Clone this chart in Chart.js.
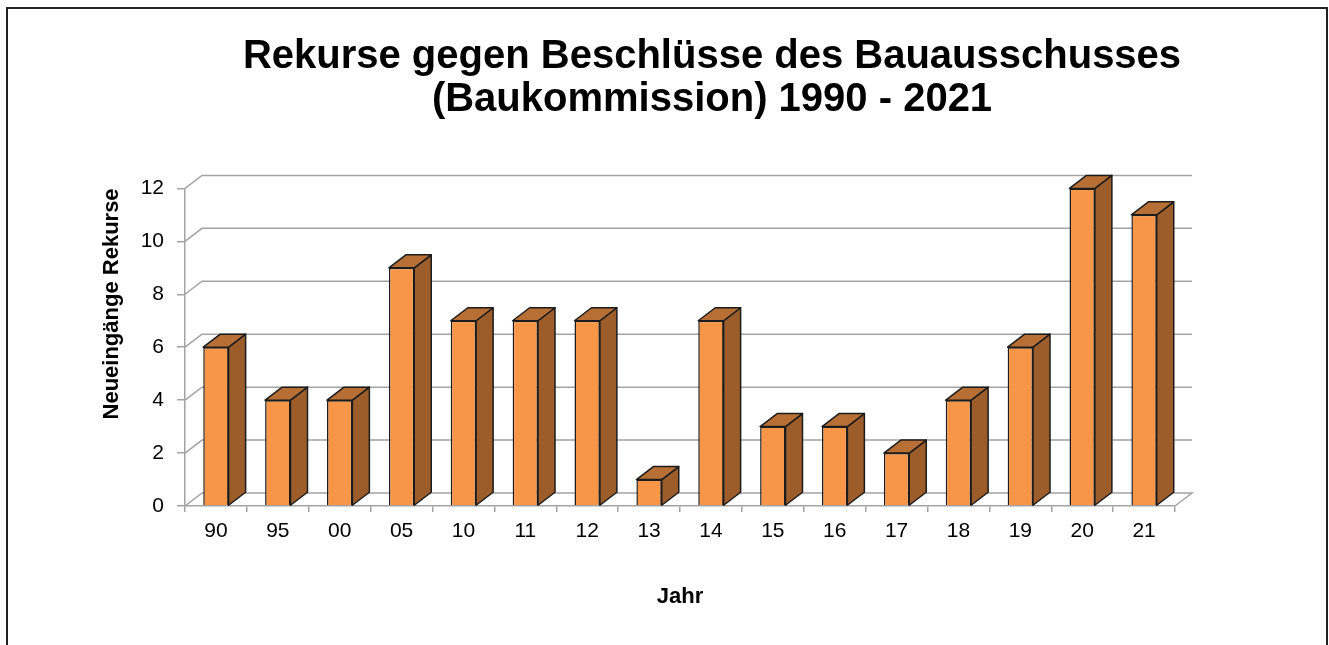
<!DOCTYPE html>
<html>
<head>
<meta charset="utf-8">
<script src="https://cdn.jsdelivr.net/npm/chart.js@4.4.1/dist/chart.umd.min.js"></script>
<style>
  html, body { margin: 0; padding: 0; background: #fff; }
  #wrap { width: 1329px; height: 645px; }
</style>
</head>
<body>
<div id="wrap"><canvas id="rekurse"></canvas></div>
<script>
const years = ['90', '95', '00', '05', '10', '11', '12', '13', '14', '15', '16', '17', '18', '19', '20', '21'];
const rekurse = [6, 4, 4, 9, 7, 7, 7, 1, 7, 3, 3, 2, 4, 6, 12, 11];
const yTicks = [0, 2, 4, 6, 8, 10, 12];

const titleLines = ['Rekurse gegen Beschlüsse des Bauausschusses', '(Baukommission) 1990 - 2021'];

// depth of the fake 3d look
const DX = 17, DY = -13;
const gridColor = '#a3a3a3';

const frame = {
  id: 'frame',
  beforeDraw(chart) {
    const ctx = chart.ctx;
    ctx.save();
    ctx.strokeStyle = '#222';
    ctx.lineWidth = 2;
    ctx.strokeRect(7, 8, 1320, 700);
    ctx.restore();
  }
};

// back wall gridlines + floor
const backWall = {
  id: 'backWall',
  beforeDatasetsDraw(chart) {
    const {ctx, chartArea: a, scales: {y}} = chart;
    ctx.save();
    ctx.strokeStyle = gridColor;
    ctx.lineWidth = 1.5;
    yTicks.forEach(v => {
      const py = y.getPixelForValue(v);
      ctx.beginPath();
      ctx.moveTo(a.left, py);
      ctx.lineTo(a.left + DX, py + DY);
      ctx.lineTo(a.right + DX, py + DY);
      if (v === 0) ctx.lineTo(a.right, py);
      ctx.stroke();
    });
    ctx.restore();
  }
};

// side and top faces of each bar
const bar3d = {
  id: 'bar3d',
  afterDatasetsDraw(chart) {
    const ctx = chart.ctx;
    const meta = chart.getDatasetMeta(0);
    ctx.save();
    ctx.strokeStyle = '#1c1c1c';
    ctx.lineWidth = 1.5;
    ctx.lineJoin = 'round';
    meta.data.forEach(bar => {
      const {x, y, base, width} = bar.getProps(['x', 'y', 'base', 'width'], true);
      const l = x - width / 2, r = x + width / 2;
      // side
      ctx.beginPath();
      ctx.moveTo(r, y);
      ctx.lineTo(r + DX, y + DY);
      ctx.lineTo(r + DX, base + DY);
      ctx.lineTo(r, base);
      ctx.closePath();
      ctx.fillStyle = '#9c5d2b';
      ctx.fill();
      ctx.stroke();
      // top
      ctx.beginPath();
      ctx.moveTo(l, y);
      ctx.lineTo(l + DX, y + DY);
      ctx.lineTo(r + DX, y + DY);
      ctx.lineTo(r, y);
      ctx.closePath();
      ctx.fillStyle = '#b86f35';
      ctx.fill();
      ctx.stroke();
    });
    ctx.restore();
  }
};

const font = 'Liberation Sans, Arial, sans-serif';

new Chart(document.getElementById('rekurse'), {
  type: 'bar',
  plugins: [frame, backWall, bar3d],
  data: {
    labels: years,
    datasets: [{
      label: 'Neueingänge Rekurse',
      data: rekurse,
      backgroundColor: '#f79646',
      borderColor: '#1c1c1c',
      borderWidth: 1.5,
      barPercentage: 0.41,
      categoryPercentage: 1
    }]
  },
  options: {
    responsive: true,
    maintainAspectRatio: false,
    animation: false,
    layout: { padding: { left: 95, right: 0, top: 0, bottom: 0 } },
    plugins: {
      legend: { display: false },
      tooltip: { enabled: false },
      title: {
        display: true,
        text: titleLines,
        color: '#000',
        font: { family: font, size: 40, weight: 'bold', lineHeight: 1.08 },
        padding: { top: 35, bottom: 67 }
      }
    },
    scales: {
      x: {
        grid: { drawOnChartArea: false, drawTicks: true, tickLength: 6, color: gridColor, lineWidth: 1.5, offset: true },
        border: { display: true, color: gridColor, width: 1.5 },
        ticks: { color: '#000', padding: 7, font: { family: font, size: 21 } },
        title: {
          display: true,
          text: 'Jahr',
          color: '#000',
          font: { family: font, size: 22, weight: 'bold' },
          padding: { top: 0, bottom: 35 }
        },
        afterFit(s) { s.height = 139; }
      },
      y: {
        min: 0,
        max: 12,
        grid: { drawOnChartArea: false, drawTicks: true, tickLength: 8, color: gridColor, lineWidth: 1.5 },
        border: { display: true, color: gridColor, width: 1.5 },
        ticks: { stepSize: 2, color: '#000', padding: 13, font: { family: font, size: 21 } },
        title: {
          display: true,
          text: 'Neueingänge Rekurse',
          align: 'end',
          color: '#000',
          font: { family: font, size: 22, weight: 'bold' },
          padding: { top: 4, bottom: 0 }
        },
        afterFit(s) { s.width = 90; }
      },
      // empty axis on the right, only keeps room for the 3d depth and centres the title
      yRight: {
        type: 'linear',
        position: 'right',
        display: true,
        grid: { display: false },
        border: { display: false },
        ticks: { display: false },
        afterFit(s) { s.width = 154; }
      }
    }
  }
});
</script>
</body>
</html>
